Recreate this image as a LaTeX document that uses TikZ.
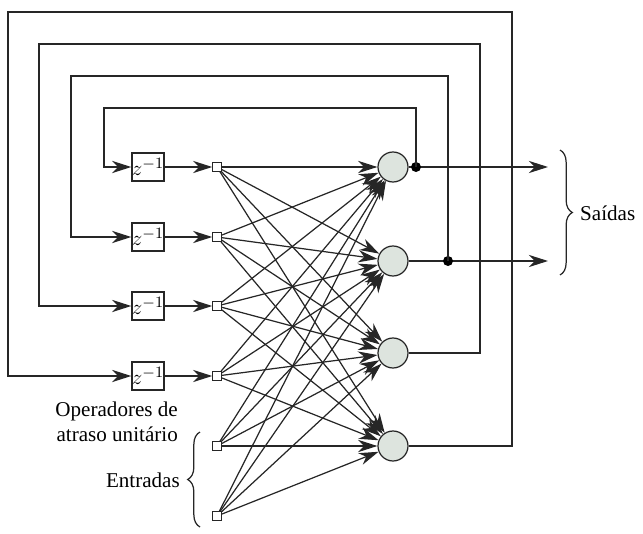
\documentclass[tikz,border=0pt]{standalone}
\usepackage{fontspec}
\setmainfont{Liberation Serif}
\usetikzlibrary{positioning, calc, arrows.meta, decorations.pathreplacing}
\definecolor{neuronfill}{RGB}{221, 228, 222}

\begin{document}
\begin{tikzpicture}[x=0.02cm, y=-0.02cm, font=\rmfamily\fontsize{12}{14}\selectfont,
    wire/.style={draw=black!85, line width=0.7pt},
    arr/.style={wire, -{Stealth[length=11pt, width=7pt, inset=3.5pt]}},
    neuron/.style={circle, draw=black!85, line width=0.7pt, fill=neuronfill, minimum size=0.6cm, inner sep=0pt},
    delay/.style={draw=black!85, line width=0.7pt, minimum width=0.62cm, minimum height=0.56cm, inner sep=0pt},
    port/.style={draw=black!85, line width=0.6pt, fill=white, minimum size=0.17cm, inner sep=0pt},
    junction/.style={circle, fill=black, minimum size=0.2cm, inner sep=0pt}]
    \useasboundingbox (0,0) rectangle (643,534);

    % nos
    \foreach \i/\y in {1/167, 2/237, 3/306, 4/376, 5/446, 6/516}
        \node[port] (in\i) at (217,\y) {};
    \foreach \i/\y in {1/167, 2/261, 3/353, 4/446}
        \node[neuron] (n\i) at (393,\y) {};
    \foreach \i/\y in {1/167, 2/237, 3/306, 4/376}
        \node[delay] (d\i) at (148,\y) {\fontsize{13}{15}\selectfont$z^{-1}$};

    % ligacoes entradas -> neuronios
    \foreach \i in {1,...,6}
        \foreach \j in {1,...,4}
            \draw[arr] (in\i) -- (n\j);
    \foreach \i in {1,...,4}
        \draw[arr] (d\i) -- (in\i);

    % saidas
    \coordinate (t1) at (416,167);
    \coordinate (t2) at (448,261);
    \coordinate (y1) at (548,167);
    \coordinate (y2) at (548,261);
    \draw[arr] (n1) -- (y1);
    \draw[arr] (n2) -- (y2);
    \node[junction] (j1) at (t1) {};
    \node[junction] (j2) at (t2) {};

    % realimentacao
    \coordinate (r1) at (416,108); \coordinate (l1) at (104,108);
    \coordinate (r2) at (448,76);  \coordinate (l2) at (71,76);
    \coordinate (r3) at (480,44);  \coordinate (l3) at (39,44);
    \coordinate (r4) at (512,12);  \coordinate (l4) at (8,12);
    \draw[arr] (t1) -- (r1) -- (l1) |- (d1);
    \draw[arr] (t2) -- (r2) -- (l2) |- (d2);
    \draw[arr] (n3) -| (r3) -- (l3) |- (d3);
    \draw[arr] (n4) -| (r4) -- (l4) |- (d4);

    % chaves e rotulos
    \draw[wire, decorate, decoration={brace, amplitude=7pt}] (560,150) -- (560,275);
    \draw[wire, decorate, decoration={brace, amplitude=7pt}] (200,527) -- (200,432);
    \node[anchor=west] (saidas) at (574,213) {Saídas};
    \node[anchor=east] (entradas) at (186,480) {Entradas};
    \node[anchor=east, align=right] (atraso) at (184,422) {Operadores de\\atraso unitário};
\end{tikzpicture}
\end{document}
